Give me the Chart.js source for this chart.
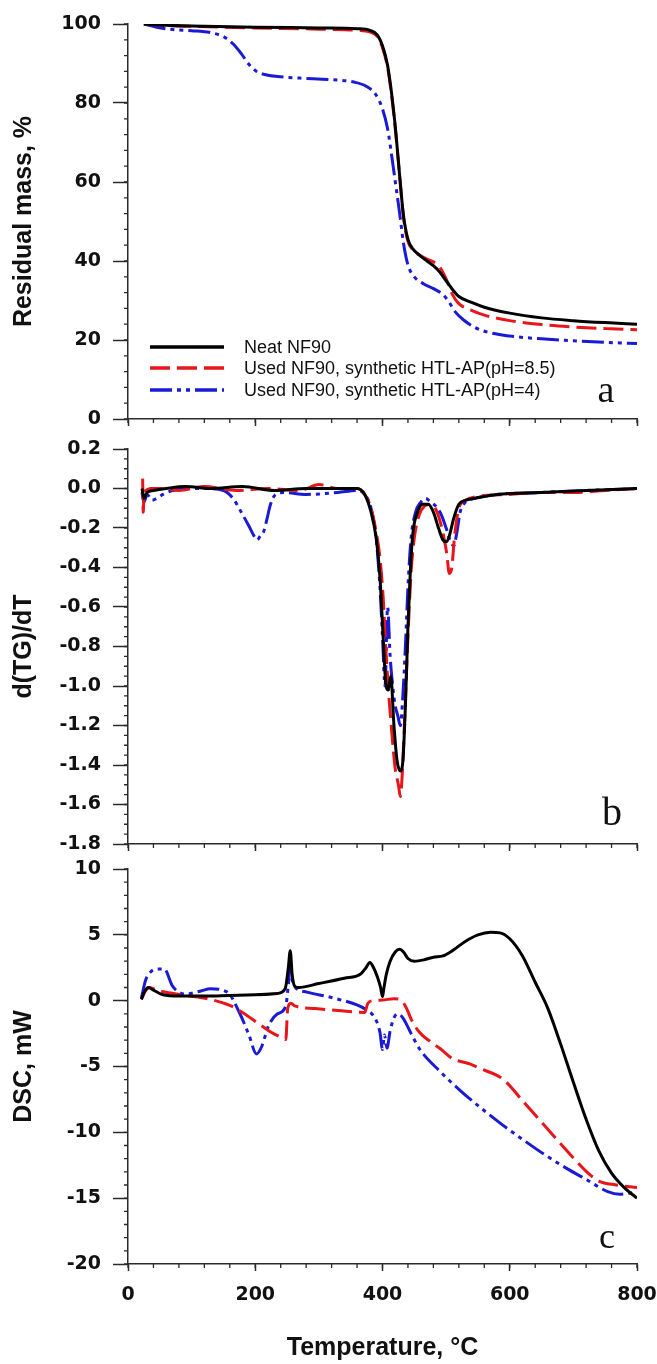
<!DOCTYPE html>
<html>
<head>
<meta charset="utf-8">
<script src="https://cdn.jsdelivr.net/npm/chart.js@4.4.1/dist/chart.umd.min.js"></script>
<style>
  html, body { margin: 0; padding: 0; background: #fff; }
  #wrap { position: relative; width: 657px; height: 1364px; }
  canvas { position: absolute; left: 0; }
</style>
</head>
<body>
<div id="wrap">
  <canvas id="chartTG" width="657" height="440" style="top:0px"></canvas>
  <canvas id="chartDTG" width="657" height="435" style="top:430px"></canvas>
  <canvas id="chartDSC" width="657" height="514" style="top:850px"></canvas>
</div>
<script>
// ---- data (temperature in °C) ----
const seriesNames = ['Neat NF90', 'Used NF90, synthetic HTL-AP(pH=8.5)', 'Used NF90, synthetic HTL-AP(pH=4)'];
const tempTicks = [0, 200, 400, 600, 800];

// (a) residual mass, %
const tgNeatT = [25, 60, 100, 200, 300, 360, 380, 392, 400, 408, 415, 421, 427, 433, 440, 448, 458, 470, 480, 490, 500, 510, 520, 540, 560, 600, 650, 700, 750, 800];
const tgNeatV = [100, 99.7, 99.5, 99.2, 99.0, 98.8, 98.4, 97.2, 94.5, 89.5, 81.5, 72.5, 61.5, 51.5, 45.5, 43.0, 41.5, 40.0, 38.8, 37.2, 35.0, 32.8, 31.0, 29.5, 28.3, 26.8, 25.6, 24.9, 24.4, 24.0];
const tgPh85T = [25, 60, 100, 200, 300, 360, 380, 392, 400, 408, 415, 421, 427, 433, 440, 448, 458, 470, 480, 490, 500, 510, 520, 540, 560, 600, 650, 700, 750, 800];
const tgPh85V = [100, 99.6, 99.4, 99.0, 98.7, 98.4, 98.0, 96.8, 94.0, 89.0, 81.0, 72.0, 61.5, 51.0, 45.0, 42.8, 41.5, 40.5, 39.8, 38.5, 35.5, 31.5, 29.2, 27.5, 26.3, 24.9, 23.9, 23.3, 22.9, 22.6];
const tgPh4T = [25, 45, 70, 100, 130, 150, 165, 178, 190, 202, 215, 235, 270, 320, 355, 375, 390, 400, 408, 415, 421, 427, 433, 440, 450, 465, 480, 495, 505, 515, 528, 545, 565, 600, 650, 700, 750, 800];
const tgPh4V = [100, 99.2, 98.6, 98.3, 97.8, 96.8, 95.0, 92.5, 89.8, 88.0, 87.2, 86.7, 86.3, 85.9, 85.3, 84.2, 82.0, 78.5, 73.5, 66.0, 59.0, 52.0, 44.5, 39.0, 36.0, 34.2, 33.0, 31.5, 29.5, 27.0, 25.0, 23.2, 22.0, 21.0, 20.3, 19.8, 19.4, 19.1];

// (b) d(TG)/dT
const dtgNeatT = [22, 25, 30, 40, 60, 90, 130, 180, 230, 280, 330, 360, 372, 382, 390, 396, 401, 405, 409, 413, 418, 423, 428, 432, 436, 440, 444, 448, 455, 463, 472, 480, 488, 495, 500, 505, 512, 520, 530, 545, 580, 650, 720, 800];
const dtgNeatV = [0, -0.05, -0.02, -0.01, 0, 0.01, 0, 0.01, -0.01, 0, 0, 0, -0.03, -0.12, -0.25, -0.45, -0.75, -0.98, -1.02, -0.95, -1.20, -1.38, -1.43, -1.38, -1.10, -0.70, -0.40, -0.22, -0.12, -0.08, -0.08, -0.12, -0.20, -0.26, -0.27, -0.24, -0.15, -0.08, -0.06, -0.05, -0.03, -0.02, -0.01, 0];
const dtgPh85T = [23, 24, 25, 28, 35, 50, 80, 120, 170, 220, 270, 300, 330, 360, 372, 382, 390, 396, 401, 405, 410, 415, 420, 425, 428, 431, 435, 440, 445, 450, 458, 466, 475, 483, 490, 496, 501, 505, 509, 513, 520, 530, 550, 600, 650, 700, 750, 800];
const dtgPh85V = [0.05, -0.12, -0.03, -0.01, 0, 0, -0.01, 0.01, -0.01, 0, -0.01, 0.02, 0, 0, -0.03, -0.1, -0.22, -0.35, -0.55, -0.8, -1.05, -1.25, -1.42, -1.5, -1.56, -1.45, -1.15, -0.75, -0.42, -0.25, -0.13, -0.09, -0.08, -0.1, -0.16, -0.24, -0.33, -0.43, -0.40, -0.25, -0.1, -0.06, -0.04, -0.03, -0.02, -0.02, -0.01, 0];
const dtgPh4T = [22, 25, 30, 38, 45, 55, 70, 90, 120, 150, 165, 178, 190, 198, 203, 208, 213, 218, 224, 232, 245, 280, 330, 360, 372, 382, 390, 396, 400, 404, 408, 412, 416, 420, 424, 428, 432, 436, 440, 445, 452, 460, 468, 476, 484, 492, 500, 507, 512, 517, 522, 530, 545, 580, 650, 720, 800];
const dtgPh4V = [-0.02, -0.07, -0.03, -0.06, -0.05, -0.03, -0.01, 0, 0, -0.01, -0.05, -0.12, -0.19, -0.24, -0.26, -0.24, -0.22, -0.16, -0.08, -0.03, -0.02, -0.03, -0.02, -0.01, -0.03, -0.1, -0.25, -0.5, -0.75, -1.0, -0.6, -0.85, -1.0, -1.1, -1.15, -1.2, -1.05, -0.8, -0.5, -0.25, -0.12, -0.07, -0.05, -0.07, -0.09, -0.13, -0.2, -0.27, -0.29, -0.22, -0.12, -0.07, -0.05, -0.03, -0.02, -0.01, 0];

// (c) DSC, mW
const dscNeatT = [21, 26, 32, 40, 55, 80, 120, 160, 200, 235, 247, 252, 255, 258, 262, 268, 300, 340, 365, 374, 380, 386, 392, 397, 400, 402, 406, 412, 420, 427, 433, 440, 450, 465, 480, 495, 510, 530, 550, 570, 585, 600, 620, 640, 660, 680, 700, 720, 740, 760, 780, 800];
const dscNeatV = [0.1, 0.7, 1.0, 0.8, 0.45, 0.35, 0.35, 0.4, 0.45, 0.55, 0.9, 2.5, 3.8, 2.0, 1.1, 1.0, 1.3, 1.7, 2.0, 2.5, 2.9, 2.5, 1.8, 1.0, 0.3, 0.9, 2.0, 3.0, 3.7, 3.9, 3.7, 3.2, 3.0, 3.1, 3.3, 3.4, 3.8, 4.5, 5.0, 5.2, 5.15, 4.7, 3.4, 1.4, -0.6, -3.3, -6.2, -9.0, -11.4, -13.1, -14.2, -15.0];
const dscPh85T = [21, 27, 34, 45, 64, 90, 129, 162, 180, 195, 210, 225, 241, 248, 251, 256, 262, 294, 330, 372, 377, 385, 400, 418, 430, 438, 445, 458, 475, 491, 510, 537, 556, 589, 622, 655, 688, 721, 740, 767, 800];
const dscPh85V = [0.1, 0.7, 1.0, 0.8, 0.6, 0.4, 0.1, -0.4, -0.9, -1.4, -1.9, -2.4, -2.8, -2.95, -0.6, -0.2, -0.4, -0.6, -0.75, -0.9, -0.2, 0.0, 0.05, 0.15, 0.0, -0.6, -1.4, -2.4, -3.1, -3.65, -4.4, -4.8, -5.2, -5.95, -7.7, -9.5, -11.3, -13.0, -13.7, -14.0, -14.2];
const dscPh4T = [21, 28, 36, 44, 57, 70, 90, 116, 129, 156, 175, 190, 202, 210, 221, 235, 248, 252, 255, 258, 263, 281, 327, 373, 389, 396, 400, 403, 407, 412, 418, 424, 432, 445, 458, 491, 524, 556, 589, 622, 655, 688, 721, 754, 773, 790, 800];
const dscPh4V = [0.2, 1.6, 2.2, 2.4, 2.4, 1.1, 0.5, 0.75, 0.9, 0.65, -0.9, -2.6, -4.05, -3.5, -1.9, -1.0, -0.4, 1.2, 2.5, 1.6, 1.0, 0.65, 0.15, -0.65, -1.4, -2.4, -3.7, -2.6, -3.6, -2.3, -1.3, -1.0, -1.3, -2.5, -3.65, -5.4, -6.9, -8.2, -9.45, -10.6, -11.7, -12.7, -13.6, -14.5, -14.7, -14.6, -14.5];

// ---- styling ----
const axisColor = '#2a2a2a';
const textColor = '#111111';
const lineStyles = [
    { color: '#000000', dash: [] },
    { color: '#e8161b', dash: [20, 7] },
    { color: '#1a1ad6', dash: [22, 5, 4, 5, 4, 5] }
];

function pairs(ts, vs) {
    return ts.map((t, i) => ({ x: t, y: vs[i] }));
}

function makeDatasets(list) {
    return list.map((pts, i) => ({
        label: seriesNames[i],
        data: pts,
        borderColor: lineStyles[i].color,
        borderDash: lineStyles[i].dash,
        borderWidth: 3,
        pointRadius: 0,
        fill: false,
        cubicInterpolationMode: 'monotone'
    }));
}

// small minor ticks on both axes (Chart.js has no minor ticks of its own)
const minorTicks = {
    id: 'minorTicks',
    afterDraw(chart, args, opts) {
        const { ctx, chartArea, scales } = chart;
        ctx.save();
        ctx.strokeStyle = axisColor;
        ctx.lineWidth = 1.3;
        ctx.beginPath();
        for (let v = scales.x.min; v <= scales.x.max + 1e-6; v += opts.xStep) {
            const px = scales.x.getPixelForValue(v);
            ctx.moveTo(px, chartArea.bottom);
            ctx.lineTo(px, chartArea.bottom + 4);
        }
        for (let v = scales.y.min; v <= scales.y.max + 1e-6; v += opts.yStep) {
            const py = scales.y.getPixelForValue(v);
            ctx.moveTo(chartArea.left - 4, py);
            ctx.lineTo(chartArea.left, py);
        }
        ctx.stroke();
        ctx.restore();
    }
};

// panel letter and (for panel a) the legend inside the plot
const decor = {
    id: 'decor',
    afterDraw(chart, args, opts) {
        const ctx = chart.ctx;
        ctx.save();
        ctx.fillStyle = textColor;
        ctx.font = opts.letterSize + 'px "Liberation Serif", "Times New Roman", serif';
        ctx.textAlign = 'center';
        ctx.textBaseline = 'alphabetic';
        ctx.fillText(opts.letter, opts.letterX, opts.letterY);

        if (opts.legend) {
            const rows = [347, 368, 390];
            ctx.font = '18px "Liberation Sans", Arial, sans-serif';
            ctx.textAlign = 'left';
            ctx.textBaseline = 'middle';
            rows.forEach((y, i) => {
                ctx.strokeStyle = lineStyles[i].color;
                ctx.setLineDash(lineStyles[i].dash);
                ctx.lineWidth = 3.5;
                ctx.beginPath();
                ctx.moveTo(150, y);
                ctx.lineTo(224, y);
                ctx.stroke();
                ctx.setLineDash([]);
                ctx.fillStyle = textColor;
                ctx.fillText(seriesNames[i], 244, y + 1);
            });
        }
        ctx.restore();
    }
};

const tickFont = { family: '"DejaVu Sans", sans-serif', weight: 'bold', size: 19 };
const titleFont = { family: '"Liberation Sans", Arial, sans-serif', weight: 'bold', size: 25 };

function makeChart(id, opts) {
    const ctx = document.getElementById(id).getContext('2d');
    return new Chart(ctx, {
        type: 'line',
        data: { datasets: makeDatasets(opts.series) },
        options: {
            responsive: false,
            animation: false,
            events: [],
            layout: { autoPadding: false, padding: { top: opts.padTop, right: 20, left: 0, bottom: 0 } },
            plugins: {
                legend: { display: false },
                tooltip: { enabled: false },
                minorTicks: { xStep: 40, yStep: opts.yMinor },
                decor: opts.decor
            },
            scales: {
                x: {
                    type: 'linear',
                    min: 0,
                    max: 800,
                    afterBuildTicks: scale => { scale.ticks = tempTicks.map(v => ({ value: v })); },
                    afterFit: scale => {
                        scale.height = opts.xHeight;
                        scale.paddingLeft = 0;
                        scale.paddingRight = 0;
                    },
                    border: { display: true, color: axisColor, width: 1.5 },
                    grid: { drawOnChartArea: false, drawTicks: true, tickLength: 7, tickWidth: 1.5, tickColor: axisColor },
                    ticks: {
                        padding: 13,
                        color: textColor,
                        font: tickFont,
                        maxRotation: 0,
                        autoSkip: false,
                        callback: v => opts.xLabels ? String(v) : ''
                    },
                    title: {
                        display: !!opts.xTitle,
                        text: opts.xTitle || '',
                        color: textColor,
                        font: titleFont,
                        padding: { top: 0, bottom: 1 }
                    }
                },
                y: {
                    type: 'linear',
                    min: opts.yMin,
                    max: opts.yMax,
                    ticks: {
                        stepSize: opts.yStep,
                        padding: 12,
                        color: textColor,
                        font: tickFont,
                        callback: opts.yFormat
                    },
                    afterFit: scale => {
                        scale.width = 128;
                        scale.paddingTop = 0;
                        scale.paddingBottom = 0;
                    },
                    border: { display: true, color: axisColor, width: 1.5 },
                    grid: { drawOnChartArea: false, drawTicks: true, tickLength: 15, tickWidth: 1.5, tickColor: axisColor },
                    title: {
                        display: true,
                        text: opts.yTitle,
                        color: textColor,
                        font: titleFont,
                        padding: { top: 9, bottom: 0 }
                    }
                }
            }
        },
        plugins: [minorTicks, decor]
    });
}

makeChart('chartTG', {
    series: [pairs(tgNeatT, tgNeatV), pairs(tgPh85T, tgPh85V), pairs(tgPh4T, tgPh4V)],
    padTop: 24, xHeight: 21, xLabels: false,
    yMin: 0, yMax: 100, yStep: 20, yMinor: 4,
    yFormat: v => String(v),
    yTitle: 'Residual mass, %',
    decor: { letter: 'a', letterX: 606, letterY: 402, letterSize: 38, legend: true }
});

makeChart('chartDTG', {
    series: [pairs(dtgNeatT, dtgNeatV), pairs(dtgPh85T, dtgPh85V), pairs(dtgPh4T, dtgPh4V)],
    padTop: 19, xHeight: 21, xLabels: false,
    yMin: -1.8, yMax: 0.2, yStep: 0.2, yMinor: 0.05,
    yFormat: v => Number(v).toFixed(1),
    yTitle: 'd(TG)/dT',
    decor: { letter: 'b', letterX: 612, letterY: 395, letterSize: 40, legend: false }
});

makeChart('chartDSC', {
    series: [pairs(dscNeatT, dscNeatV), pairs(dscPh85T, dscPh85V), pairs(dscPh4T, dscPh4V)],
    padTop: 19, xHeight: 100, xLabels: true, xTitle: 'Temperature, °C',
    yMin: -20, yMax: 10, yStep: 5, yMinor: 1,
    yFormat: v => String(v),
    yTitle: 'DSC, mW',
    decor: { letter: 'c', letterX: 607, letterY: 398, letterSize: 36, legend: false }
});
</script>
</body>
</html>
